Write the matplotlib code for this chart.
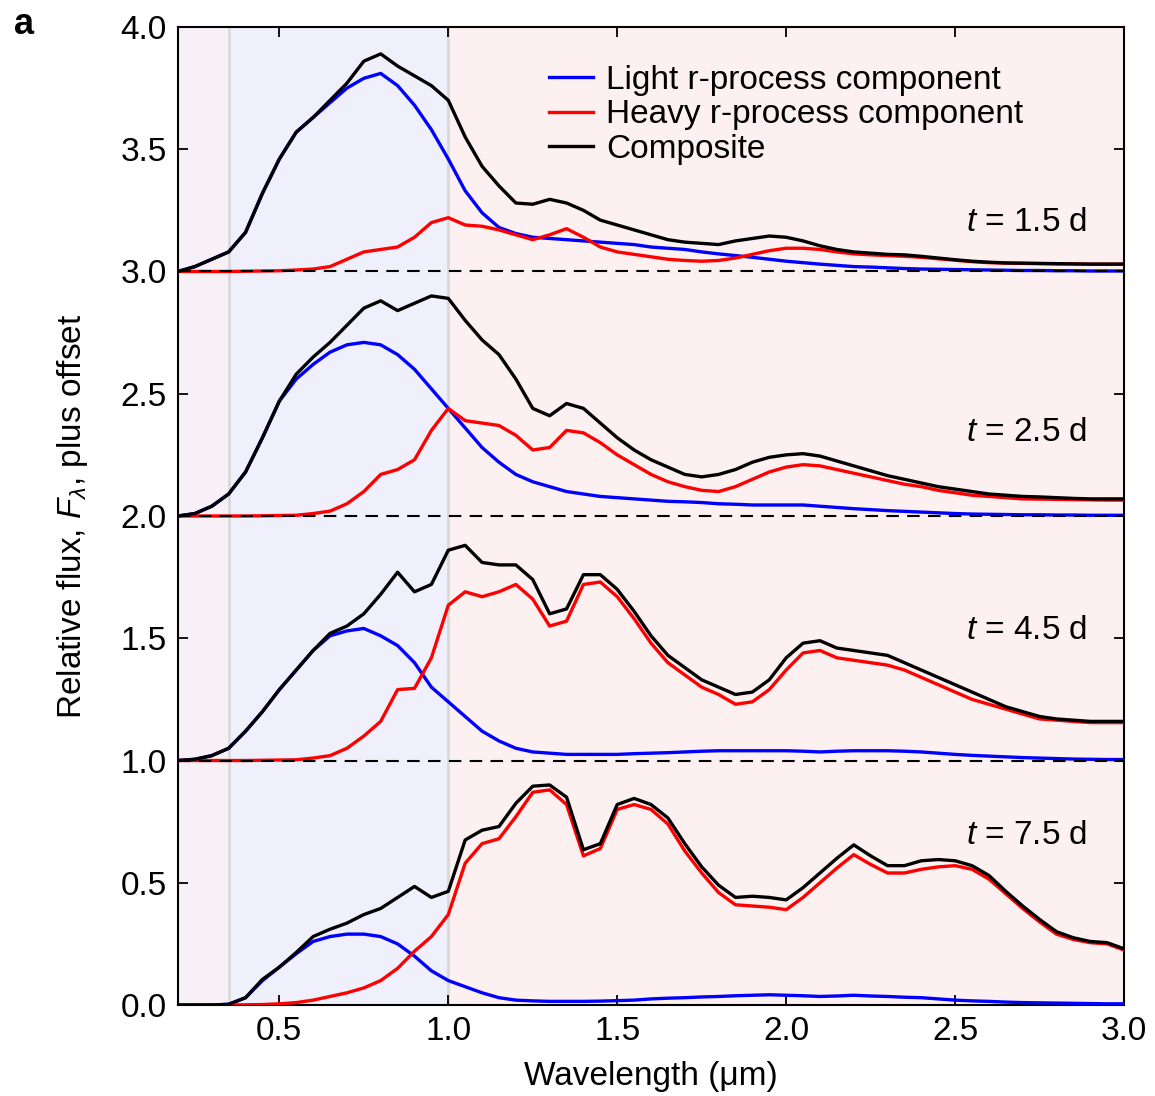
import numpy as np
import matplotlib
matplotlib.use("Agg")
import matplotlib.pyplot as plt

plt.rcParams.update({
    "font.family": ["Liberation Sans", "DejaVu Sans"],
    "font.size": 24,
    "mathtext.fontset": "custom",
    "mathtext.rm": "Liberation Sans",
    "mathtext.it": "Liberation Sans:italic",
})

# wavelength grid (micron), 0.20 ... 3.00 in 0.05 steps
wavelength = np.round(np.arange(0.20, 3.0001, 0.05), 2)

epochs = ["1.5", "2.5", "4.5", "7.5"]
offsets = [3.0, 2.0, 1.0, 0.0]
label_y = [3.2, 2.34, 1.53, 0.695]

# t = 1.5 d
light_15 = [0.00, 0.02, 0.05, 0.08, 0.16, 0.32, 0.46, 0.57, 0.63, 0.69,
            0.75, 0.79, 0.81, 0.76, 0.68, 0.58, 0.46, 0.33, 0.24, 0.18,
            0.155, 0.14, 0.135, 0.13, 0.125, 0.12, 0.115, 0.11, 0.10, 0.095,
            0.09, 0.08, 0.072, 0.065, 0.058, 0.05, 0.042, 0.036, 0.03, 0.025,
            0.02, 0.018, 0.015, 0.012, 0.01, 0.009, 0.008, 0.007, 0.006, 0.005,
            0.004, 0.004, 0.003, 0.003, 0.002, 0.002, 0.002]
heavy_15 = [0.0, 0.0, 0.0, 0.0, 0.001, 0.002, 0.003, 0.006, 0.01, 0.02,
            0.05, 0.08, 0.09, 0.10, 0.14, 0.20, 0.22, 0.19, 0.185, 0.17,
            0.15, 0.13, 0.15, 0.175, 0.14, 0.10, 0.08, 0.07, 0.06, 0.05,
            0.045, 0.042, 0.045, 0.055, 0.07, 0.085, 0.095, 0.095, 0.09, 0.08,
            0.072, 0.068, 0.065, 0.062, 0.058, 0.052, 0.046, 0.04, 0.036, 0.034,
            0.033, 0.032, 0.031, 0.031, 0.030, 0.030, 0.030]
comp_15 = [0.00, 0.02, 0.05, 0.08, 0.16, 0.32, 0.46, 0.57, 0.63, 0.70,
           0.77, 0.86, 0.89, 0.84, 0.80, 0.76, 0.70, 0.55, 0.43, 0.35,
           0.28, 0.275, 0.295, 0.28, 0.25, 0.21, 0.19, 0.17, 0.15, 0.13,
           0.12, 0.115, 0.11, 0.125, 0.135, 0.145, 0.14, 0.125, 0.105, 0.09,
           0.08, 0.075, 0.07, 0.068, 0.062, 0.055, 0.048, 0.042, 0.038, 0.035,
           0.034, 0.033, 0.032, 0.031, 0.030, 0.030, 0.030]

# t = 2.5 d
light_25 = [0.00, 0.01, 0.04, 0.09, 0.18, 0.32, 0.47, 0.56, 0.62, 0.67,
            0.70, 0.71, 0.70, 0.66, 0.60, 0.52, 0.44, 0.36, 0.28, 0.22,
            0.17, 0.14, 0.12, 0.10, 0.09, 0.08, 0.075, 0.07, 0.065, 0.06,
            0.058, 0.055, 0.05, 0.048, 0.045, 0.045, 0.045, 0.045, 0.04, 0.035,
            0.03, 0.026, 0.022, 0.019, 0.016, 0.013, 0.01, 0.008, 0.007, 0.006,
            0.005, 0.005, 0.004, 0.004, 0.003, 0.003, 0.003]
heavy_25 = [0.0, 0.0, 0.0, 0.0, 0.0, 0.001, 0.002, 0.003, 0.01, 0.02,
            0.05, 0.10, 0.17, 0.19, 0.23, 0.35, 0.44, 0.39, 0.38, 0.37,
            0.33, 0.27, 0.28, 0.35, 0.34, 0.30, 0.25, 0.21, 0.17, 0.14,
            0.12, 0.105, 0.10, 0.12, 0.15, 0.18, 0.20, 0.21, 0.205, 0.19,
            0.175, 0.16, 0.145, 0.13, 0.12, 0.105, 0.095, 0.085, 0.08, 0.075,
            0.07, 0.069, 0.068, 0.067, 0.066, 0.065, 0.065]
comp_25 = [0.00, 0.01, 0.04, 0.09, 0.18, 0.32, 0.47, 0.58, 0.65, 0.71,
           0.78, 0.85, 0.88, 0.84, 0.87, 0.90, 0.89, 0.80, 0.72, 0.66,
           0.56, 0.44, 0.41, 0.46, 0.44, 0.38, 0.32, 0.27, 0.23, 0.20,
           0.17, 0.16, 0.17, 0.19, 0.22, 0.24, 0.25, 0.255, 0.245, 0.225,
           0.205, 0.185, 0.165, 0.15, 0.135, 0.12, 0.11, 0.10, 0.09, 0.085,
           0.08, 0.078, 0.075, 0.072, 0.07, 0.07, 0.07]

# t = 4.5 d
light_45 = [0.00, 0.005, 0.02, 0.05, 0.12, 0.20, 0.29, 0.37, 0.45, 0.51,
            0.53, 0.54, 0.51, 0.47, 0.40, 0.30, 0.24, 0.18, 0.12, 0.08,
            0.05, 0.035, 0.03, 0.025, 0.025, 0.025, 0.025, 0.028, 0.03, 0.032,
            0.035, 0.038, 0.04, 0.04, 0.04, 0.04, 0.04, 0.038, 0.035, 0.038,
            0.04, 0.04, 0.04, 0.038, 0.035, 0.03, 0.025, 0.021, 0.018, 0.015,
            0.012, 0.01, 0.008, 0.006, 0.005, 0.004, 0.004]
heavy_45 = [0.0, 0.0, 0.0, 0.0, 0.0, 0.001, 0.002, 0.003, 0.01, 0.02,
            0.05, 0.10, 0.16, 0.29, 0.295, 0.42, 0.635, 0.69, 0.67, 0.69,
            0.72, 0.66, 0.55, 0.57, 0.72, 0.73, 0.67, 0.58, 0.48, 0.40,
            0.35, 0.30, 0.27, 0.23, 0.24, 0.29, 0.37, 0.44, 0.45, 0.42,
            0.41, 0.40, 0.39, 0.37, 0.34, 0.31, 0.28, 0.25, 0.23, 0.21,
            0.19, 0.17, 0.165, 0.16, 0.155, 0.155, 0.155]
comp_45 = [0.00, 0.005, 0.02, 0.05, 0.12, 0.20, 0.29, 0.37, 0.45, 0.52,
           0.55, 0.60, 0.68, 0.77, 0.69, 0.72, 0.86, 0.88, 0.81, 0.80,
           0.80, 0.74, 0.60, 0.62, 0.76, 0.76, 0.70, 0.61, 0.51, 0.43,
           0.38, 0.33, 0.30, 0.27, 0.28, 0.33, 0.42, 0.48, 0.49, 0.46,
           0.45, 0.44, 0.43, 0.40, 0.37, 0.34, 0.31, 0.28, 0.25, 0.22,
           0.20, 0.18, 0.17, 0.165, 0.16, 0.16, 0.16]

# t = 7.5 d
light_75 = [0.0, 0.0, 0.0, 0.003, 0.03, 0.10, 0.155, 0.21, 0.26, 0.28,
            0.29, 0.29, 0.28, 0.25, 0.20, 0.14, 0.10, 0.075, 0.05, 0.03,
            0.02, 0.017, 0.015, 0.015, 0.015, 0.016, 0.018, 0.02, 0.025, 0.028,
            0.03, 0.033, 0.035, 0.038, 0.04, 0.042, 0.04, 0.038, 0.035, 0.037,
            0.04, 0.037, 0.035, 0.032, 0.03, 0.025, 0.02, 0.017, 0.015, 0.012,
            0.01, 0.009, 0.008, 0.007, 0.006, 0.005, 0.005]
heavy_75 = [0.0, 0.0, 0.0, 0.0, 0.001, 0.002, 0.005, 0.01, 0.02, 0.035,
            0.05, 0.07, 0.10, 0.15, 0.22, 0.28, 0.37, 0.58, 0.66, 0.68,
            0.77, 0.87, 0.88, 0.82, 0.61, 0.64, 0.80, 0.82, 0.80, 0.74,
            0.63, 0.54, 0.46, 0.41, 0.405, 0.40, 0.39, 0.44, 0.50, 0.56,
            0.615, 0.575, 0.54, 0.54, 0.555, 0.565, 0.57, 0.555, 0.515, 0.455,
            0.395, 0.34, 0.29, 0.268, 0.255, 0.25, 0.225]
comp_75 = [0.0, 0.0, 0.0, 0.003, 0.03, 0.105, 0.155, 0.215, 0.28, 0.31,
           0.335, 0.37, 0.395, 0.44, 0.485, 0.44, 0.465, 0.675, 0.715, 0.73,
           0.825, 0.895, 0.90, 0.85, 0.635, 0.66, 0.82, 0.845, 0.82, 0.765,
           0.66, 0.565, 0.49, 0.44, 0.445, 0.44, 0.43, 0.48, 0.54, 0.60,
           0.655, 0.61, 0.57, 0.57, 0.59, 0.595, 0.59, 0.57, 0.53, 0.465,
           0.405, 0.35, 0.30, 0.275, 0.26, 0.255, 0.23]

light = [light_15, light_25, light_45, light_75]
heavy = [heavy_15, heavy_25, heavy_45, heavy_75]
comp = [comp_15, comp_25, comp_45, comp_75]

fig = plt.figure(figsize=(11.55, 10.96), dpi=100)
ax = fig.add_axes([0.1541, 0.0830, 0.8191, 0.8924])

# shaded wavelength bands
ax.axvspan(0.2, 0.35, color="#f7f0f6", zorder=0, lw=0)
ax.axvspan(0.35, 1.0, color="#eff0fc", zorder=0, lw=0)
ax.axvspan(1.0, 3.0, color="#fdf0f0", zorder=0, lw=0)
for xv in (0.35, 1.0):
    ax.axvline(xv, color="#d9d9d9", lw=2, zorder=1)

lw = 2.4
for i in range(4):
    off = offsets[i]
    ax.plot(wavelength, np.array(light[i]) + off, color="#0000ff", lw=lw, zorder=3,
            label="Light r-process component" if i == 0 else None)
    ax.plot(wavelength, np.array(heavy[i]) + off, color="#ff0000", lw=lw, zorder=3,
            label="Heavy r-process component" if i == 0 else None)
    ax.plot(wavelength, np.array(comp[i]) + off, color="black", lw=lw, zorder=4,
            label="Composite" if i == 0 else None)
    ax.text(2.89, label_y[i], "$t$ = %s d" % epochs[i], ha="right", va="center")

for off in offsets[:3]:
    ax.axhline(off, color="black", lw=1.5, ls=(0, (6, 4)), zorder=5)

ax.set_xlim(0.2, 3.0)
ax.set_ylim(0.0, 4.0)
ax.set_xticks([0.5, 1.0, 1.5, 2.0, 2.5, 3.0])
ax.set_yticks(np.arange(0, 4.01, 0.5))
ax.xaxis.set_major_formatter(matplotlib.ticker.FormatStrFormatter("%.1f"))
ax.yaxis.set_major_formatter(matplotlib.ticker.FormatStrFormatter("%.1f"))
ax.tick_params(direction="in", top=True, right=True, length=7, width=1.3, pad=8)
for s in ax.spines.values():
    s.set_linewidth(1.5)

ax.set_xlabel("Wavelength (\u03bcm)", labelpad=10)
ax.set_ylabel("Relative flux, $F_{\\lambda}$, plus offset", labelpad=22)

ax.legend(loc="upper left", bbox_to_anchor=(0.375, 0.978), frameon=False,
          handlelength=1.3, handletextpad=0.4, borderpad=0, labelspacing=0.1)

fig.text(0.012, 0.978, "a", fontsize=26, fontweight="bold", ha="left", va="center")

fig.savefig("out.png", dpi=100)
